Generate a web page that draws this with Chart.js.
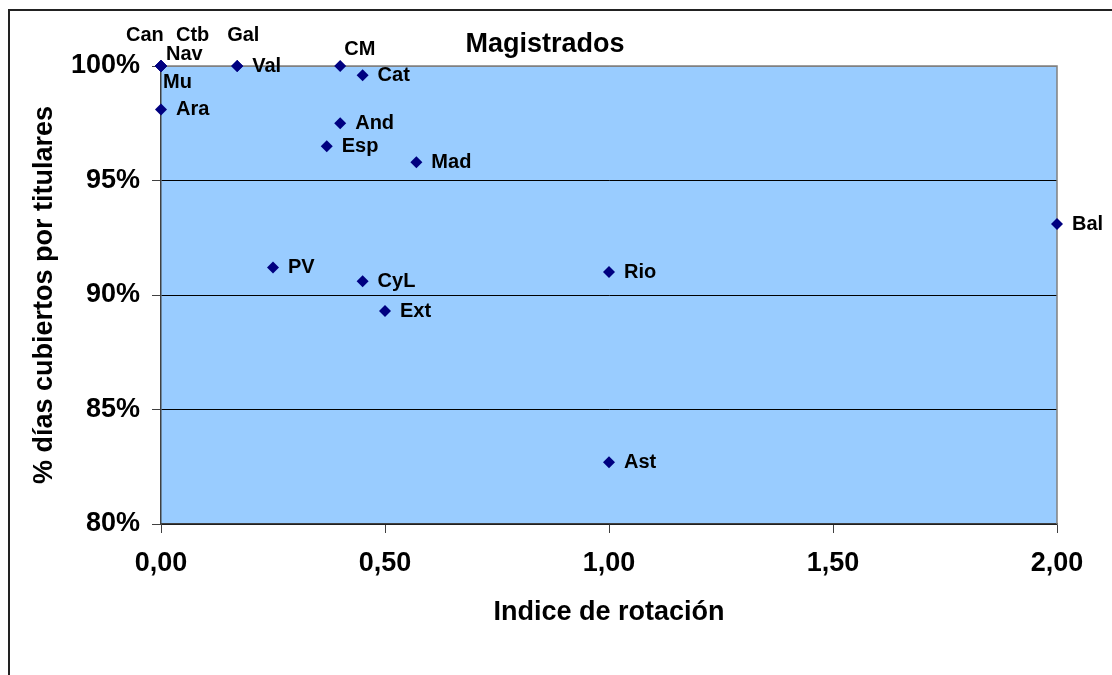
<!DOCTYPE html>
<html>
<head>
<meta charset="utf-8">
<script src="https://cdn.jsdelivr.net/npm/chart.js@4.4.0/dist/chart.umd.min.js"></script>
<style>
  body { margin: 0; background: #fff; }
  canvas { display: block; }
</style>
</head>
<body>
<canvas id="grafico" width="1112" height="675"></canvas>
<script>
// datos
const regiones = ['Can', 'Ctb', 'Nav', 'Mu', 'Gal', 'Val', 'CM', 'Cat', 'Ara', 'And', 'Esp', 'Mad', 'Bal', 'PV', 'Rio', 'CyL', 'Ext', 'Ast'];
const indiceRotacion = [0, 0, 0, 0, 0.17, 0.17, 0.40, 0.45, 0, 0.40, 0.37, 0.57, 2.00, 0.25, 1.00, 0.45, 0.50, 1.00];
const diasCubiertos = [100, 100, 100, 100, 100, 100, 100, 99.6, 98.1, 97.5, 96.5, 95.8, 93.1, 91.2, 91.0, 90.6, 89.3, 82.7];
const ticksY = [80, 85, 90, 95, 100];
const ticksX = [0, 0.5, 1, 1.5, 2];

const fuente = "'Liberation Sans', Arial, sans-serif";

// etiquetas movidas a mano (dx, dy respecto al punto)
const desplazamientos = {
    Can: [-35, -31],
    Ctb: [15, -31],
    Gal: [-10, -31],
    Nav: [5, -12],
    Mu: [2, 16],
    CM: [4, -17]
};

const fondoPlugin = {
    id: 'fondo',
    beforeDraw(chart) {
        const ctx = chart.ctx;
        const a = chart.chartArea;
        ctx.save();
        // marco exterior
        ctx.strokeStyle = '#222';
        ctx.lineWidth = 2;
        ctx.beginPath();
        ctx.moveTo(9, 675);
        ctx.lineTo(9, 10);
        ctx.lineTo(1112, 10);
        ctx.stroke();
        // area de trazado
        ctx.fillStyle = '#99CCFF';
        ctx.fillRect(a.left, a.top, a.right - a.left, a.bottom - a.top);
        ctx.restore();
    },
    beforeDatasetsDraw(chart) {
        const ctx = chart.ctx;
        const a = chart.chartArea;
        ctx.save();
        ctx.strokeStyle = '#808080';
        ctx.lineWidth = 1.5;
        ctx.beginPath();
        ctx.moveTo(a.left, a.top);
        ctx.lineTo(a.right, a.top);
        ctx.lineTo(a.right, a.bottom);
        ctx.stroke();
        ctx.restore();
    },
    afterDatasetsDraw(chart) {
        const ctx = chart.ctx;
        const puntos = chart.getDatasetMeta(0).data;
        ctx.save();
        ctx.fillStyle = '#000';
        ctx.font = 'bold 20px ' + fuente;
        ctx.textAlign = 'left';
        ctx.textBaseline = 'middle';
        puntos.forEach((p, i) => {
            const nombre = regiones[i];
            const d = desplazamientos[nombre] || [15, 0];
            ctx.fillText(nombre, p.x + d[0], p.y + d[1]);
        });
        // titulo
        ctx.font = 'bold 27px ' + fuente;
        ctx.textAlign = 'center';
        ctx.fillText('Magistrados', 545, 45);
        ctx.restore();
    }
};

const ctx = document.getElementById('grafico').getContext('2d');
new Chart(ctx, {
    type: 'scatter',
    data: {
        datasets: [{
            label: 'Magistrados',
            data: regiones.map((r, i) => ({ x: indiceRotacion[i], y: diasCubiertos[i] })),
            pointStyle: 'rectRot',
            pointRadius: 6,
            pointHoverRadius: 6,
            backgroundColor: '#000080',
            borderColor: '#000080',
            borderWidth: 0,
            clip: false
        }]
    },
    options: {
        responsive: false,
        animation: false,
        layout: { padding: { left: 0, top: 66, right: 55, bottom: 0 } },
        plugins: {
            legend: { display: false },
            tooltip: { enabled: false },
            title: { display: false }
        },
        scales: {
            x: {
                type: 'linear',
                min: 0,
                max: 2,
                afterBuildTicks: function(scale) {
                    scale.ticks = ticksX.map(v => ({ value: v }));
                },
                afterFit: function(scale) { scale.height = 151; },
                grid: { drawOnChartArea: false, drawTicks: true, tickLength: 9, color: '#404040' },
                border: { color: '#404040', width: 1.5 },
                ticks: {
                    padding: 14,
                    color: '#000',
                    font: { family: fuente, size: 27, weight: 'bold' },
                    callback: function(value) {
                        return Number(value).toFixed(2).replace('.', ',');
                    }
                },
                title: {
                    display: true,
                    text: 'Indice de rotación',
                    color: '#000',
                    font: { family: fuente, size: 27, weight: 'bold' },
                    padding: { top: 0, bottom: 46 }
                }
            },
            y: {
                type: 'linear',
                min: 80,
                max: 100,
                afterBuildTicks: function(scale) {
                    scale.ticks = ticksY.map(v => ({ value: v }));
                },
                afterFit: function(scale) { scale.width = 161; },
                grid: {
                    drawTicks: true,
                    tickLength: 9,
                    color: function(c) { return c.tick && c.tick.value === 100 ? '#808080' : '#000'; },
                    tickColor: '#404040',
                    lineWidth: 1
                },
                border: { color: '#404040', width: 1.5 },
                ticks: {
                    padding: 12,
                    color: '#000',
                    font: { family: fuente, size: 27, weight: 'bold' },
                    callback: function(value) { return value + '%'; }
                },
                title: {
                    display: true,
                    text: '% días cubiertos por titulares',
                    color: '#000',
                    font: { family: fuente, size: 27, weight: 'bold' },
                    padding: { top: 28, bottom: 0 }
                }
            }
        }
    },
    plugins: [fondoPlugin]
});
</script>
</body>
</html>
